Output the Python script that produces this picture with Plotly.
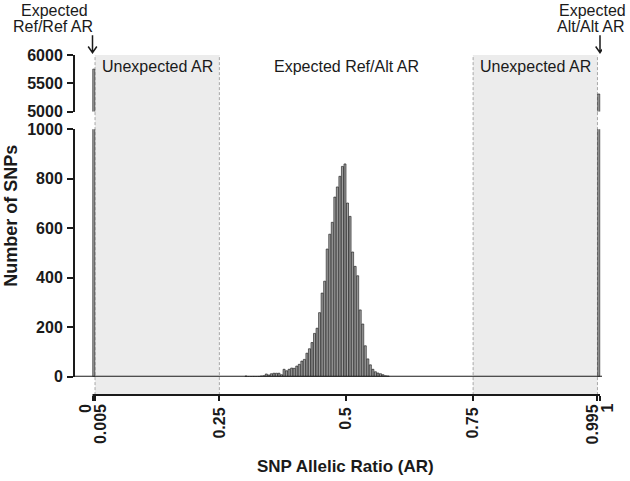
import plotly.graph_objects as go

# ---- data -------------------------------------------------------------
# bin centres of SNP allelic ratio histogram (bin width 0.005)
ar_bins = [0.0025,
           0.3025, 0.3075, 0.3125, 0.3175, 0.3225, 0.3275, 0.3325, 0.3375, 0.3425, 0.3475,
           0.3525, 0.3575, 0.3625, 0.3675, 0.3725, 0.3775, 0.3825, 0.3875, 0.3925, 0.3975,
           0.4025, 0.4075, 0.4125, 0.4175, 0.4225, 0.4275, 0.4325, 0.4375, 0.4425, 0.4475,
           0.4525, 0.4575, 0.4625, 0.4675, 0.4725, 0.4775, 0.4825, 0.4875, 0.4925, 0.4975,
           0.5025, 0.5075, 0.5125, 0.5175, 0.5225, 0.5275, 0.5325, 0.5375, 0.5425, 0.5475,
           0.5525, 0.5575, 0.5625, 0.5675, 0.5725, 0.5775, 0.5825,
           0.9975]
snp_counts = [5750,
              3, 0, 0, 1, 0, 1, 3, 4, 11, 7,
              12, 14, 14, 14, 8, 30, 24, 30, 35, 34,
              43, 50, 63, 70, 95, 113, 138, 175, 196, 259,
              338, 386, 516, 576, 624, 726, 767, 810, 850, 860,
              702, 648, 504, 446, 408, 270, 213, 125, 72, 48,
              30, 20, 15, 12, 8, 4, 3,
              5310]

x_tick_vals = [0, 0.005, 0.25, 0.5, 0.75, 0.995, 1]
x_tick_text = ["", "", "0.25", "0.5", "0.75", "", ""]
edge_labels = ["0", "0.005", "0.995", "1"]
edge_vals = [0, 0.005, 0.995, 1]
edge_shift = [-7, 5, -5, 7]

low_ticks = [0, 200, 400, 600, 800, 1000]
high_ticks = [5000, 5500, 6000]

unexpected_regions = [(0.005, 0.25), (0.75, 0.995)]
cutoffs = [0.005, 0.25, 0.75, 0.995]

FONT = "Arial, 'Liberation Sans', sans-serif"
AXC = "#1a1a1a"

fig = go.Figure()
bar_style = dict(marker=dict(color="#a0a0a0", line=dict(color="#111111", width=0.6)),
                 showlegend=False, hoverinfo="x+y")
fig.add_trace(go.Bar(x=ar_bins, y=snp_counts, xaxis="x", yaxis="y", **bar_style))
fig.add_trace(go.Bar(x=ar_bins, y=snp_counts, xaxis="x", yaxis="y2", **bar_style))

shapes = []
for a, b in unexpected_regions:
    shapes.append(dict(type="rect", xref="x", yref="paper", x0=a, x1=b, y0=0, y1=1,
                       fillcolor="#ececec", line=dict(width=0), layer="below"))
for c in cutoffs:
    shapes.append(dict(type="line", xref="x", yref="paper", x0=c, x1=c, y0=-0.015, y1=1,
                       line=dict(color="#a8a8a8", width=1, dash="3px,2px"), layer="below"))
# zero line of lower panel
shapes.append(dict(type="line", xref="paper", yref="y", x0=0, x1=1, y0=0, y1=0,
                   line=dict(color=AXC, width=2)))
# x axis line (only between 0 and 1)
shapes.append(dict(type="line", xref="x", yref="paper", x0=0, x1=1, y0=0, y1=0,
                   line=dict(color=AXC, width=2)))
# arrows
for xv in (0, 1):
    dx = 0.0085
    shapes.append(dict(type="path", xref="x", yref="paper",
                       path=f"M {xv},1.058 L {xv},1.007 M {xv-dx},1.025 L {xv},1.007 L {xv+dx},1.025",
                       line=dict(color=AXC, width=1.5)))

reg = dict(family=FONT, size=16, color=AXC)
bold16 = dict(family=FONT, size=16, color=AXC, weight="bold")

annotations = []
for lab, v, s in zip(edge_labels, edge_vals, edge_shift):
    annotations.append(dict(text=lab, x=v, xref="x", y=0, yref="paper", yanchor="top",
                            xanchor="center", textangle=-90, showarrow=False, xshift=s, yshift=-7,
                            font=bold16))


def txt(text, x, y, xref="x", **kw):
    d = dict(text=text, x=x, xref=xref, y=y, yref="paper", xanchor="center",
             yanchor="middle", showarrow=False, font=reg)
    d.update(kw)
    return d


annotations += [
    txt("Expected", 0, 1.131, xshift=-38),
    txt("Ref/Ref AR", 0, 1.083, xshift=-40),
    txt("Expected", 1, 1.131, xshift=-8),
    txt("Alt/Alt AR", 1, 1.083, xshift=-9),
    txt("Unexpected AR", 0.1275, 0.967),
    txt("Expected Ref/Alt AR", 0.5, 0.967),
    txt("Unexpected AR", 0.8725, 0.967),
    txt("Number of SNPs", -0.122, 0.526, xref="paper", textangle=-90,
        font=dict(family=FONT, size=18, color=AXC, weight="bold")),
    txt("SNP Allelic Ratio (AR)", 0.514, -0.209, xref="paper",
        font=dict(family=FONT, size=17, color=AXC, weight="bold")),
]

yax_common = dict(showline=True, linecolor=AXC, linewidth=2, ticks="outside", ticklen=6,
                  tickwidth=2, tickcolor=AXC, showgrid=False, zeroline=False,
                  tickfont=bold16, ticklabelstandoff=1, anchor="x")

fig.update_layout(
    width=630, height=481,
    margin=dict(l=75, r=28, t=55, b=86),
    paper_bgcolor="white", plot_bgcolor="rgba(0,0,0,0)",
    bargap=0.2,
    xaxis=dict(range=[-0.03448, 1.00394], anchor="free", position=0, showline=False,
               tickvals=x_tick_vals, ticktext=x_tick_text, ticks="outside", ticklen=5,
               tickwidth=2, tickcolor=AXC, tickangle=-90, showgrid=False, zeroline=False,
               tickfont=bold16),
    yaxis=dict(domain=[0.0538, 0.7815], range=[0, 1000], tickvals=low_ticks, **yax_common),
    yaxis2=dict(domain=[0.8338, 1.0], range=[5000, 6000], tickvals=high_ticks, **yax_common),
    shapes=shapes,
    annotations=annotations,
    font=dict(family=FONT, color=AXC),
)

fig.write_html("out.html", config={"displayModeBar": False},
               post_script="document.body.style.margin='0px';")
